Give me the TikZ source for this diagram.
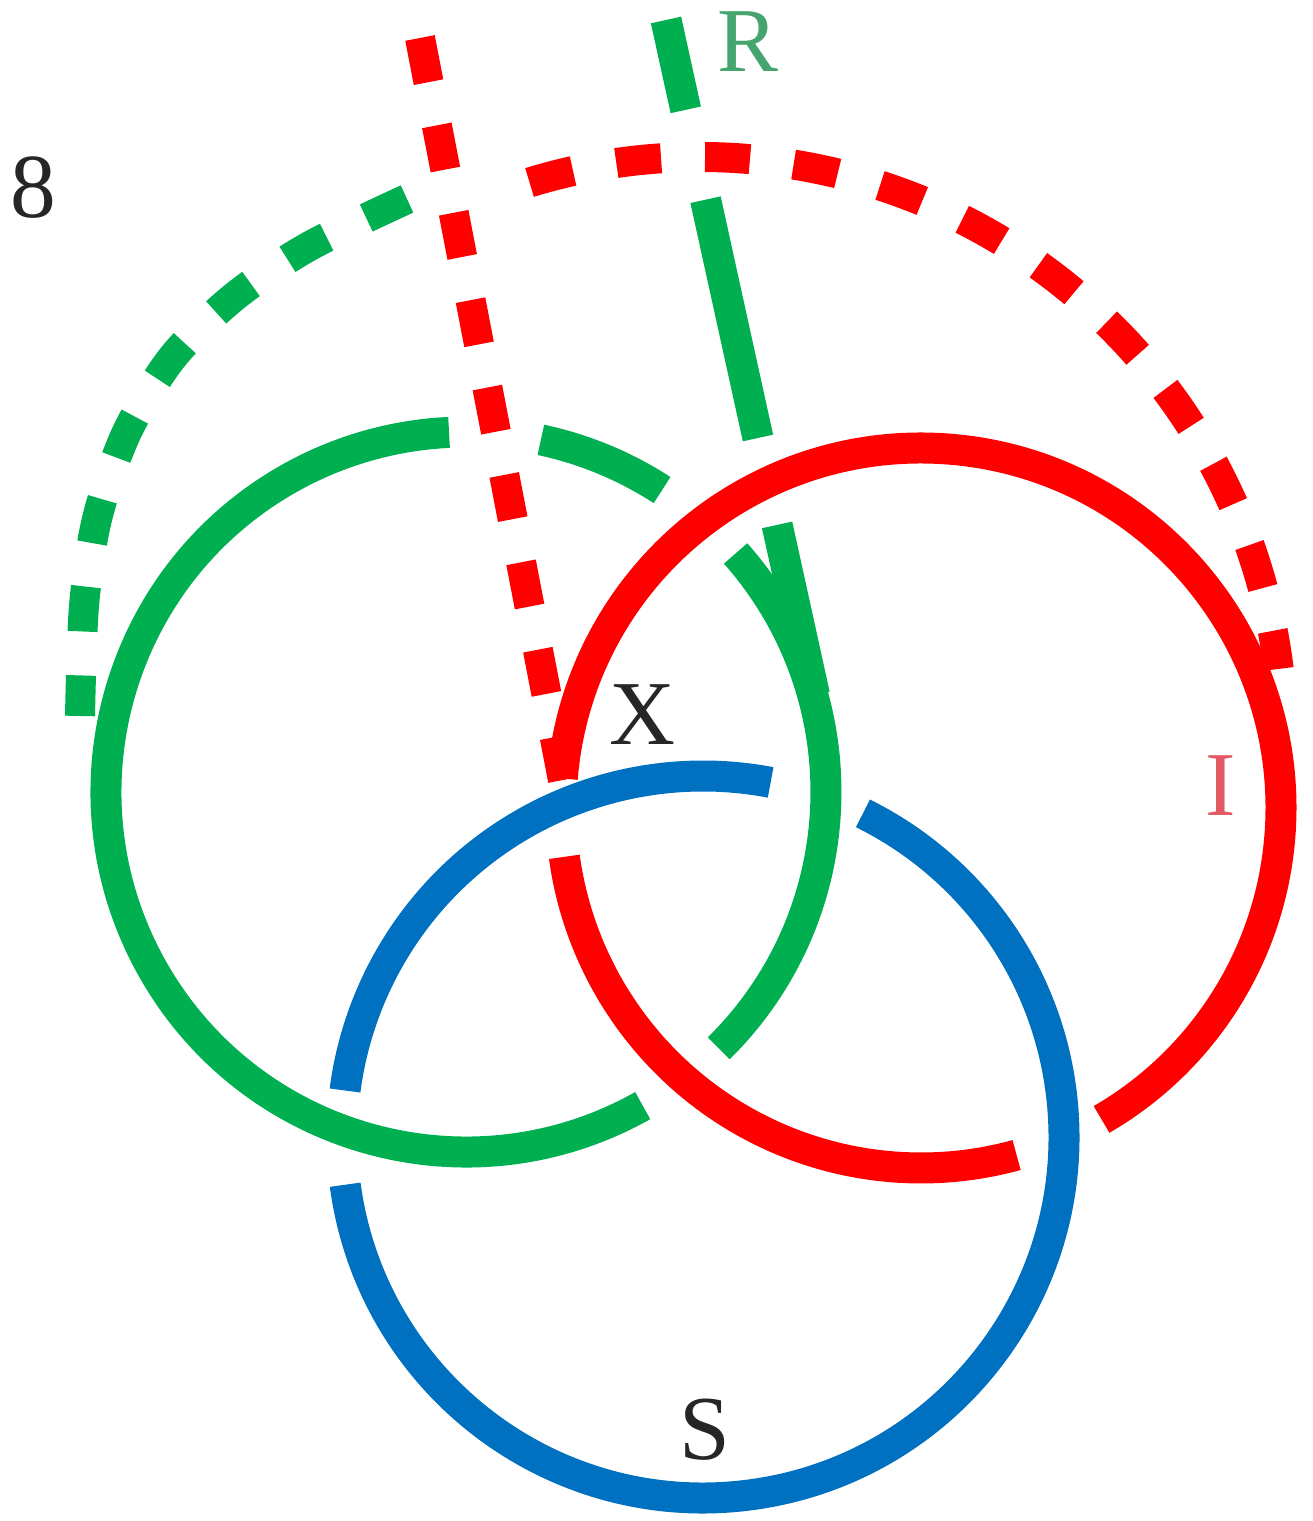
\documentclass[tikz,border=0pt]{standalone}
\usepackage{fontspec}
\setmainfont{Liberation Serif}

\definecolor{kgreen}{HTML}{00B050}
\definecolor{kred}{HTML}{FF0000}
\definecolor{kblue}{HTML}{0070C0}
\definecolor{tagR}{RGB}{70,165,110}
\definecolor{tagI}{RGB}{225,90,100}

\begin{document}
\begin{tikzpicture}[band/.style={line width=0.31cm},
                    dashband/.style={line width=0.3cm, dash pattern=on 0.45cm off 0.44cm},
                    tag/.style={inner sep=0pt, font=\fontsize{26}{30}\selectfont}]
  \useasboundingbox (0,0) rectangle (13.12,15.21);

  \coordinate (ringR) at (4.66,7.29);
  \coordinate (ringI) at (9.21,7.13);
  \coordinate (ringS) at (7.03,3.84);
  \coordinate (arcI)  at (7.00,7.81);

  \coordinate (Rtop)  at (6.66,15.01);
  \coordinate (Rfoot) at (8.145,8.26);
  \coordinate (Itop)  at (4.20,14.83);
  \coordinate (Ifoot) at (5.63,7.41);

  % green ring, broken where red passes over
  \draw[band, kgreen] (ringR) ++(78:3.6)    arc[start angle=78,    end angle=57,     radius=3.6];
  \draw[band, kgreen] (ringR) ++(41.5:3.6)  arc[start angle=41.5,  end angle=-45.4,  radius=3.6];
  \draw[band, kgreen] (ringR) ++(-60.6:3.6) arc[start angle=-60.6, end angle=-267.3, radius=3.6];

  % green strand from the top, runs into the ring
  \draw[band, kgreen, dash pattern=on 0.92cm off 0.92cm on 2.44cm off 0.89cm on 2.2cm]
    (Rtop) -- (Rfoot);
  \draw[dashband, kgreen] plot[smooth] coordinates {(4.07,13.22) (3.08,12.74) (2.34,12.24)
    (1.72,11.63) (1.26,10.87) (0.97,10.02) (0.84,9.15) (0.80,8.05)};

  % blue ring, under green
  \draw[band, kblue] (ringS) ++(79.2:3.61)  arc[start angle=79.2,  end angle=172.6, radius=3.61];
  \draw[band, kblue] (ringS) ++(187.6:3.61) arc[start angle=187.6, end angle=423.7, radius=3.61];

  % red ring, under blue
  \draw[band, kred] (ringI) ++(175.3:3.6) arc[start angle=175.3, end angle=-59.9,  radius=3.6];
  \draw[band, kred] (ringI) ++(-74.6:3.6) arc[start angle=-74.6, end angle=-172.2, radius=3.6];

  \draw[dashband, kred] (Itop) -- (Ifoot);
  \draw[dashband, kred] (arcI) ++(107:5.83) arc[start angle=107, end angle=7, radius=5.83];

  \node[tag, black!85] (eight) at (0.33,13.33) {8};
  \node[tag, tagR]     (labR)  at (7.48,14.79) {R};
  \node[tag, black!85] (labX)  at (6.42,8.06)  {X};
  \node[tag, tagI]     (labI)  at (12.21,7.35) {I};
  \node[tag, black!85] (labS)  at (7.05,0.91)  {S};
\end{tikzpicture}
\end{document}
